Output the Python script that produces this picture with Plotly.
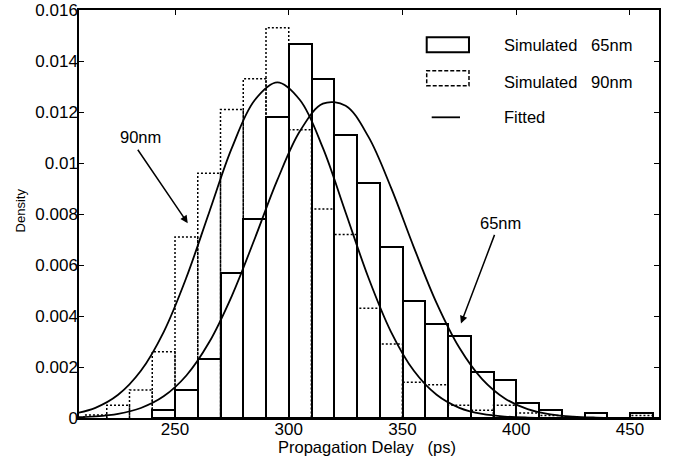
import plotly.graph_objects as go

# ---- data ----
bin_width = 10
bins_65 = [240, 250, 260, 270, 280, 290, 300, 310, 320, 330, 340, 350, 360, 370, 380, 390, 400, 410, 430, 450]
dens_65 = [0.0003, 0.0011, 0.0023, 0.0057, 0.0078, 0.0118, 0.01466, 0.0133, 0.0111, 0.0092, 0.0067, 0.0046,
           0.0037, 0.0032, 0.0018, 0.0015, 0.0006, 0.0003, 0.0002, 0.0002]

bins_90 = [210, 220, 230, 240, 250, 260, 270, 280, 290, 300, 310, 320, 330, 340, 350, 360, 370, 380, 390, 400, 410, 450]
dens_90 = [0.00012, 0.0005, 0.0011, 0.0026, 0.0071, 0.0096, 0.0121, 0.0133, 0.0153, 0.0113, 0.0082, 0.0072,
           0.0043, 0.0029, 0.0014, 0.0013, 0.0005, 0.0003, 0.0005, 0.0002, 0.0001, 0.0001]

fit_x = [205, 215, 225, 235, 245, 255, 265, 275, 285, 295, 305, 315, 325, 335, 345, 355, 365, 375, 385,
         395, 405, 415, 425, 435, 445, 455, 465]
fit_90 = [0.00016, 0.00040, 0.00091, 0.00185, 0.00337, 0.00551, 0.00806, 0.01059, 0.01246, 0.01316, 0.01246,
          0.01059, 0.00806, 0.00551, 0.00337, 0.00185, 0.00091, 0.00040, 0.00016, 0.000057, 0.000018,
          0.000005, 0.000001, 0.0, 0.0, 0.0, 0.0]
fit_65 = [0.000022, 0.000063, 0.000165, 0.000393, 0.00085, 0.001667, 0.002968, 0.004793, 0.007021, 0.009336,
          0.011263, 0.012328, 0.012245, 0.011034, 0.009024, 0.006694, 0.004506, 0.002753, 0.001526, 0.000767,
          0.00035, 0.000145, 0.000054, 0.0000185, 0.0000057, 0.0000016, 0.0]

x_ticks = [250, 300, 350, 400, 450]
y_ticks = [0, 0.002, 0.004, 0.006, 0.008, 0.01, 0.012, 0.014, 0.016]
y_tick_text = ["0", "0.002", "0.004", "0.006", "0.008", "0.01", "0.012", "0.014", "0.016"]

FONT = "Liberation Sans, Arial, sans-serif"

fig = go.Figure()

# 65nm histogram: solid outlined bars
fig.add_trace(go.Bar(
    x=[b + bin_width / 2 for b in bins_65], y=dens_65, width=bin_width,
    marker=dict(color="rgba(0,0,0,0)", line=dict(color="black", width=2)),
    showlegend=False, hoverinfo="skip"))

# 90nm histogram: dotted outlines
ox, oy = [], []
for b, h in zip(bins_90, dens_90):
    ox += [b, b, b + bin_width, b + bin_width, None]
    oy += [0, h, h, 0, None]
fig.add_trace(go.Scatter(x=ox, y=oy, mode="lines",
                         line=dict(color="black", width=1.5, dash="2px,2px"),
                         showlegend=False, hoverinfo="skip"))

# fitted curves
for fy in (fit_90, fit_65):
    fig.add_trace(go.Scatter(x=fit_x, y=fy, mode="lines",
                             line=dict(color="black", width=1.8, shape="spline"),
                             showlegend=False, hoverinfo="skip"))

axis_common = dict(showline=True, linecolor="black", linewidth=1.5, mirror="allticks",
                   ticks="inside", ticklen=5, tickcolor="black", tickwidth=1,
                   showgrid=False, zeroline=False, automargin=False,
                   tickfont=dict(family=FONT, size=17, color="black"))

fig.update_layout(
    width=675, height=462,
    margin=dict(l=79, r=16, t=10, b=44, autoexpand=False),
    paper_bgcolor="white", plot_bgcolor="white",
    barmode="overlay", bargap=0,
    xaxis=dict(range=[207.8, 462.75], tickmode="array", tickvals=x_ticks, ticklabelstandoff=-5,
               **axis_common),
    yaxis=dict(range=[0, 0.016], tickmode="array", tickvals=y_ticks, ticktext=y_tick_text,
               ticklabelstandoff=-4, **axis_common),
)

# axis labels
fig.add_annotation(text="Propagation Delay\u00a0\u00a0\u00a0(ps)", xref="paper", yref="paper",
                   x=0.4974, y=-0.0703, showarrow=False, xanchor="center", yanchor="middle",
                   font=dict(family=FONT, size=16.5, color="black"))
fig.add_annotation(text="Density", xref="paper", yref="paper", x=-0.1009, y=0.51, textangle=-90,
                   showarrow=False, xanchor="center", yanchor="middle",
                   font=dict(family=FONT, size=13, color="black"))

# curve labels with arrows
fig.add_annotation(text="90nm", x=235, y=0.01102, showarrow=False,
                   font=dict(family=FONT, size=16.5, color="black"))
fig.add_annotation(text="", x=255.6, y=0.00764, ax=233.2, ay=0.01058, axref="x", ayref="y",
                   showarrow=True, arrowhead=2, arrowsize=1, arrowwidth=1.5, arrowcolor="black")
fig.add_annotation(text="65nm", x=392.9, y=0.00765, showarrow=False,
                   font=dict(family=FONT, size=16.5, color="black"))
fig.add_annotation(text="", x=375.7, y=0.00371, ax=390.7, ay=0.00724, axref="x", ayref="y",
                   showarrow=True, arrowhead=2, arrowsize=1, arrowwidth=1.5, arrowcolor="black")

# custom legend
fig.add_shape(type="rect", xref="paper", yref="paper", x0=0.5995, x1=0.6724, y0=0.8963, y1=0.9331,
              line=dict(color="black", width=2), fillcolor="rgba(0,0,0,0)")
fig.add_shape(type="rect", xref="paper", yref="paper", x0=0.5995, x1=0.6724, y0=0.8145, y1=0.8512,
              line=dict(color="black", width=1.5, dash="4px,2px"), fillcolor="rgba(0,0,0,0)")
fig.add_shape(type="line", xref="paper", yref="paper", x0=0.6081, x1=0.6569, y0=0.7370, y1=0.7370,
              line=dict(color="black", width=1.8))
for txt, yy in [("Simulated\u00a0\u00a0\u00a065nm", 0.9142), ("Simulated\u00a0\u00a0\u00a090nm", 0.8243),
                ("Fitted", 0.7385)]:
    fig.add_annotation(text=txt, xref="paper", yref="paper", x=0.7288, y=yy, showarrow=False,
                       xanchor="left", yanchor="middle",
                       font=dict(family=FONT, size=16.5, color="black"))

fig.write_html("out.html", config={"displayModeBar": False},
               post_script="document.body.style.margin='0';document.body.style.padding='0';"
                           "document.body.style.overflow='hidden';")
